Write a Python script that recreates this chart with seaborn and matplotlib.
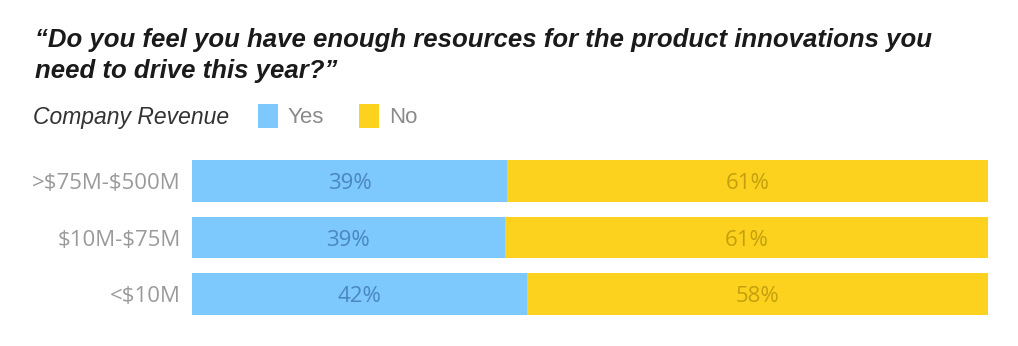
import matplotlib
matplotlib.use("Agg")
import matplotlib.pyplot as plt
import seaborn as sns
import pandas as pd
from matplotlib.patches import Patch

categories = [">$75M-$500M", "$10M-$75M", "<$10M"]
yes_values = [39.6, 39.3, 42.1]
no_values = [60.4, 60.7, 57.9]
yes_labels = ["39%", "39%", "42%"]
no_labels = ["61%", "61%", "58%"]
title = "\u201cDo you feel you have enough resources for the product innovations you\nneed to drive this year?\u201d"

BLUE = "#7DC8FD"
YELLOW = "#FDD21F"

sns.set_theme(style="white")
plt.rcParams['font.family'] = ['Liberation Sans', 'DejaVu Sans']

df = pd.DataFrame({"cat": categories, "yes": yes_values, "no": no_values})
df["total"] = df["yes"] + df["no"]

fig = plt.figure(figsize=(10.18, 3.46), dpi=100)
ax = fig.add_axes([0.1886, 0.0686, 0.9705 - 0.1886, 0.5585 - 0.0686])

sns.barplot(data=df, x="total", y="cat", color=YELLOW, orient="h", width=0.74,
            saturation=1, ax=ax, linewidth=0)
sns.barplot(data=df, x="yes", y="cat", color=BLUE, orient="h", width=0.74,
            saturation=1, ax=ax, linewidth=0)

for i in range(len(categories)):
    ax.text(yes_values[i] / 2, i, yes_labels[i], ha="center", va="center_baseline",
            fontsize=16, color="#4A88C0", family="Open Sans")
    ax.text(yes_values[i] + no_values[i] / 2, i, no_labels[i], ha="center", va="center_baseline",
            fontsize=16, color="#C4A00C", family="Open Sans")

ax.set_xlim(0, 100)
ax.set_ylim(2.5, -0.5)
ax.set_xlabel("")
ax.set_ylabel("")
ax.set_xticks([])
ax.set_yticks(range(len(categories)))
ax.set_yticklabels(categories)
for s in ax.spines.values():
    s.set_visible(False)
ax.tick_params(axis="y", length=0, pad=8)
for lab in ax.get_yticklabels():
    lab.set_parse_math(False)
    lab.set_fontsize(16)
    lab.set_color("#9A9A9A")
    lab.set_family("Open Sans")

fig.text(35 / 1018, 1 - 28 / 346, title, ha="left", va="top", fontsize=18.5,
         fontweight="bold", fontstyle="italic", color="#1A1A1A", linespacing=1.38)

fig.text(33 / 1018, 1 - 117 / 346, "Company Revenue", ha="left", va="center",
         fontsize=16.5, fontstyle="italic", color="#333333")

handles = [Patch(facecolor=BLUE, edgecolor="none", label="Yes"),
           Patch(facecolor=YELLOW, edgecolor="none", label="No")]
leg = fig.legend(handles=handles, loc="center left", bbox_to_anchor=(258 / 1018, 1 - 116 / 346),
                 ncol=2, frameon=False, fontsize=16, handlelength=0.9, handleheight=1.35,
                 handletextpad=0.45, columnspacing=1.55, borderaxespad=0, borderpad=0)
for t in leg.get_texts():
    t.set_color("#8A8A8A")

fig.savefig("out.png", dpi=100)
